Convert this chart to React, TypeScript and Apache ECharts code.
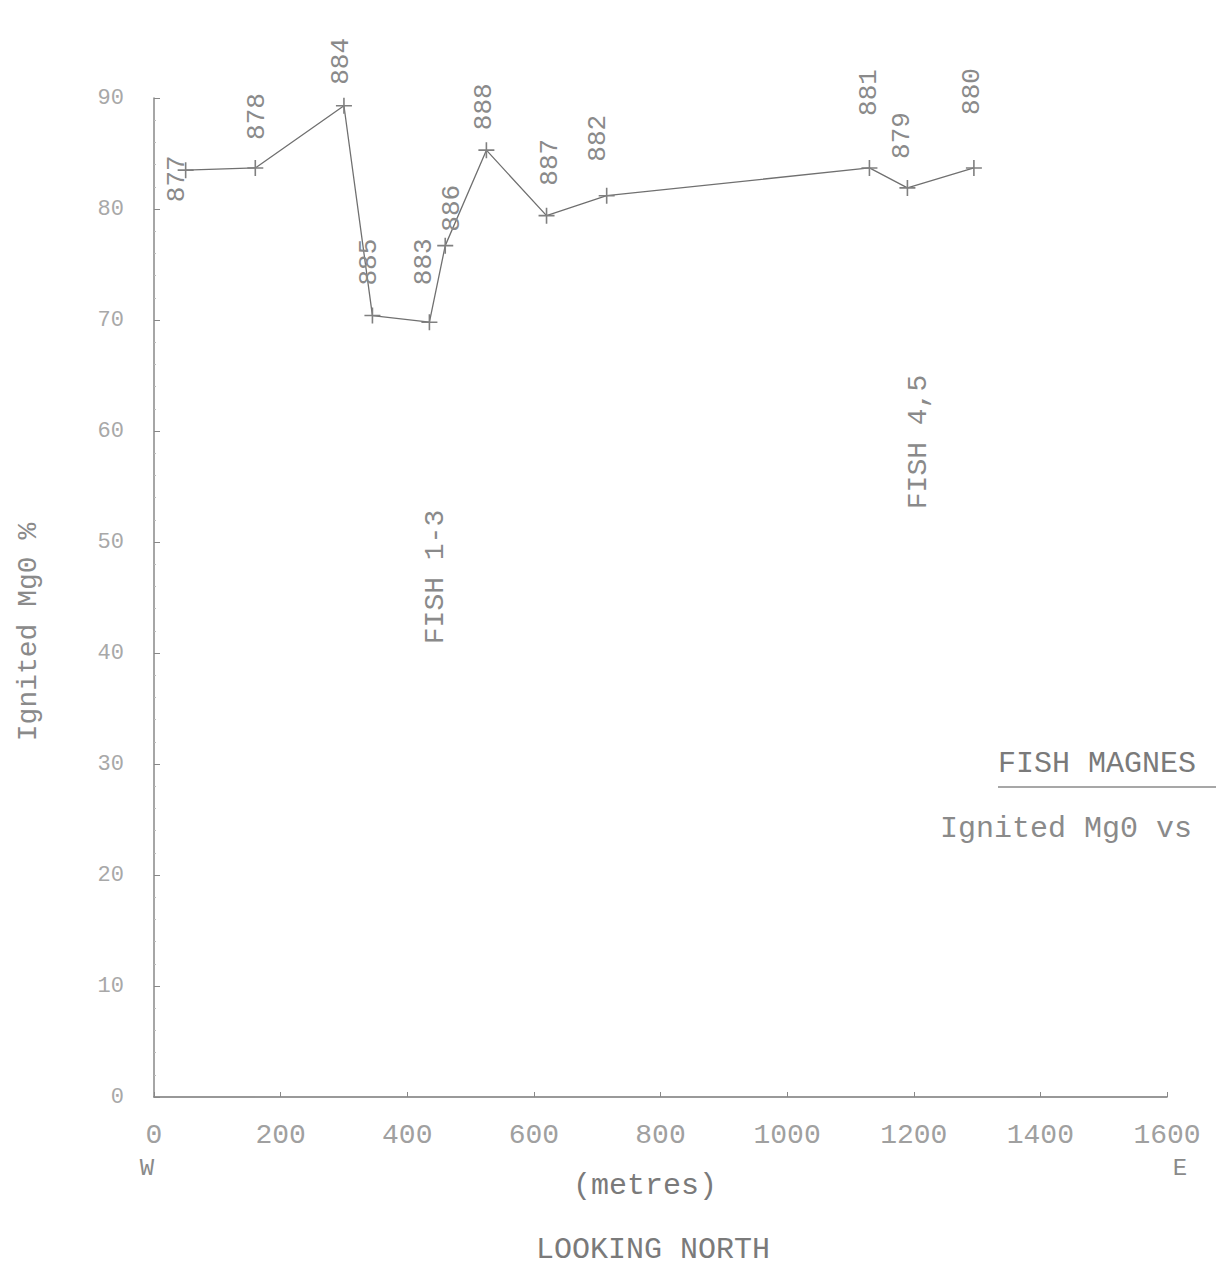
import React, { useEffect, useRef } from "react";
import * as echarts from "echarts";

// Sample IDs, distance along section (metres), ignited MgO %
const sampleIds = ["877", "878", "884", "885", "883", "886", "888", "887", "882", "881", "879", "880"];
const distances = [50, 160, 300, 345, 435, 460, 525, 620, 715, 1130, 1190, 1295];
const mgoValues = [83.5, 83.7, 89.3, 70.4, 69.8, 76.7, 85.3, 79.4, 81.2, 83.7, 81.9, 83.7];

const xTicks = [0, 200, 400, 600, 800, 1000, 1200, 1400, 1600];
const yTicks = [0, 10, 20, 30, 40, 50, 60, 70, 80, 90];

// label offsets (up, right) in pixels for the rotated sample labels
const labelUp = [-32, 28, 21, 30, 37, 14, 20, 30, 34, 52, 29, 53];
const labelRight = [-9, 2, -3, -3, -5, 7, -2, 3, -9, 0, -5, -2];

const MONO = "'Liberation Mono', 'DejaVu Sans Mono', monospace";
const PLUS =
  "path://M-1,-10 L1,-10 L1,-1 L10,-1 L10,1 L1,1 L1,10 L-1,10 L-1,1 L-10,1 L-10,-1 L-1,-1 Z";

export default function App() {
  const ref = useRef<HTMLDivElement>(null);

  useEffect(() => {
    if (!ref.current) return;
    const chart = echarts.init(ref.current, null, { renderer: "svg" });

    const data = distances.map((d, i) => ({
      value: [d, mgoValues[i]],
      name: sampleIds[i],
      label: {
        show: true,
        formatter: sampleIds[i],
        position: "inside",
        rotate: 90,
        align: "left",
        verticalAlign: "middle",
        offset: [labelUp[i], labelRight[i]],
        fontFamily: MONO,
        fontSize: 26,
        color: "#8a8a8a",
      },
    }));

    const textColor = "#8a8a8a";

    chart.setOption({
      animation: false,
      backgroundColor: "#ffffff",
      grid: { left: 154, right: 49, top: 98, bottom: 177, containLabel: false },
      xAxis: {
        type: "value",
        min: 0,
        max: 1600,
        interval: 200,
        axisLine: { show: true, lineStyle: { color: "#777", width: 1.5 } },
        axisTick: { show: true, inside: true, length: 5, lineStyle: { color: "#888" } },
        splitLine: { show: false },
        axisLabel: {
          margin: 24,
          fontFamily: MONO,
          fontSize: 28,
          color: "#a0a0a0",
          formatter: (v: number) => (xTicks.includes(v) ? String(v) : ""),
        },
      },
      yAxis: {
        type: "value",
        min: 0,
        max: 90,
        interval: 10,
        axisLine: { show: true, lineStyle: { color: "#888", width: 1.5 } },
        axisTick: { show: true, inside: true, length: 6, lineStyle: { color: "#888" } },
        minorTick: { show: true, splitNumber: 5, length: 2, lineStyle: { color: "#bbb" } },
        splitLine: { show: false },
        axisLabel: {
          margin: 30,
          fontFamily: MONO,
          fontSize: 22,
          color: "#a8a8a8",
          formatter: (v: number) => (yTicks.includes(v) ? String(v) : ""),
        },
      },
      series: [
        {
          type: "line",
          data,
          symbol: PLUS,
          symbolSize: 16,
          itemStyle: { color: "#808080" },
          lineStyle: { color: "#707070", width: 1.3 },
        },
      ],
      graphic: [
        {
          type: "text",
          x: 28,
          y: 632,
          rotation: Math.PI / 2,
          style: {
            text: "Ignited Mg0 %",
            fontFamily: MONO,
            fontSize: 28,
            fill: textColor,
            textAlign: "center",
            textVerticalAlign: "middle",
          },
        },
        {
          type: "text",
          x: 435,
          y: 577,
          rotation: Math.PI / 2,
          style: {
            text: "FISH 1-3",
            fontFamily: MONO,
            fontSize: 28,
            fill: textColor,
            textAlign: "center",
            textVerticalAlign: "middle",
          },
        },
        {
          type: "text",
          x: 918,
          y: 442,
          rotation: Math.PI / 2,
          style: {
            text: "FISH 4,5",
            fontFamily: MONO,
            fontSize: 28,
            fill: textColor,
            textAlign: "center",
            textVerticalAlign: "middle",
          },
        },
        {
          type: "text",
          x: 998,
          y: 764,
          style: {
            text: "FISH MAGNES",
            fontFamily: MONO,
            fontSize: 30,
            fill: "#7a7a7a",
            textAlign: "left",
            textVerticalAlign: "middle",
          },
        },
        {
          type: "line",
          shape: { x1: 998, y1: 787, x2: 1216, y2: 787 },
          style: { stroke: "#8a8a8a", lineWidth: 1.5 },
        },
        {
          type: "text",
          x: 940,
          y: 829,
          style: {
            text: "Ignited Mg0 vs",
            fontFamily: MONO,
            fontSize: 30,
            fill: textColor,
            textAlign: "left",
            textVerticalAlign: "middle",
          },
        },
        {
          type: "text",
          x: 147,
          y: 1168,
          style: {
            text: "W",
            fontFamily: MONO,
            fontSize: 24,
            fill: textColor,
            textAlign: "center",
            textVerticalAlign: "middle",
          },
        },
        {
          type: "text",
          x: 1180,
          y: 1168,
          style: {
            text: "E",
            fontFamily: MONO,
            fontSize: 24,
            fill: textColor,
            textAlign: "center",
            textVerticalAlign: "middle",
          },
        },
        {
          type: "text",
          x: 645,
          y: 1186,
          style: {
            text: "(metres)",
            fontFamily: MONO,
            fontSize: 30,
            fill: "#7a7a7a",
            textAlign: "center",
            textVerticalAlign: "middle",
          },
        },
        {
          type: "text",
          x: 653,
          y: 1250,
          style: {
            text: "LOOKING NORTH",
            fontFamily: MONO,
            fontSize: 30,
            fill: "#7a7a7a",
            textAlign: "center",
            textVerticalAlign: "middle",
          },
        },
      ],
    });

    return () => chart.dispose();
  }, []);

  return (
    <div
      ref={ref}
      style={{ position: "fixed", left: 0, top: 0, width: 1216, height: 1274, background: "#fff" }}
    />
  );
}
